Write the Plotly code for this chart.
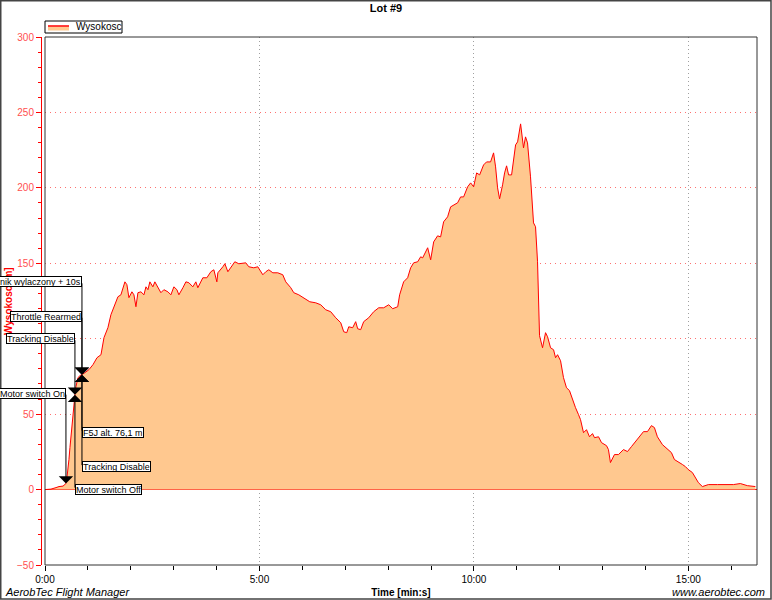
import plotly.graph_objects as go

# ---------------- data ----------------
time_s = [
    0, 8.4, 15.4, 19.6, 25.2, 28.0, 29.3, 30.7, 32.1, 33.5,
    34.9, 36.3, 37.7, 39.1, 40.5, 41.9, 43.3, 44.7, 46.1, 48.9,
    51.7, 55.9, 61.5, 67.1, 72.7, 78.3, 82.5, 88.0, 92.2, 96.4,
    102.0, 106.2, 109.0, 111.8, 114.6, 117.4, 121.6, 124.4, 127.2, 130.0,
    134.2, 138.4, 141.2, 144.0, 146.7, 150.9, 153.7, 157.9, 162.1, 166.3,
    171.9, 176.1, 180.3, 184.5, 187.3, 192.9, 197.1, 201.3, 206.8, 211.0,
    213.8, 220.8, 226.4, 232.0, 236.2, 240.4, 241.8, 248.8, 251.6, 255.8,
    260.0, 265.5, 271.1, 276.7, 280.9, 285.1, 292.1, 297.7, 304.7, 308.9,
    313.1, 318.7, 325.6, 332.6, 336.8, 343.8, 348.0, 355.0, 362.0, 370.4,
    378.7, 385.7, 392.7, 399.7, 406.7, 413.7, 417.9, 422.1, 424.9, 430.4,
    434.6, 437.4, 441.6, 445.8, 452.8, 459.8, 466.8, 473.8, 480.8, 486.4,
    493.4, 496.1, 501.7, 507.3, 511.5, 515.7, 521.3, 525.5, 528.3, 535.3,
    539.5, 543.7, 549.2, 553.4, 557.6, 563.2, 567.4, 571.6, 577.2, 581.4,
    585.6, 591.2, 595.4, 599.6, 603.8, 608.0, 613.5, 617.7, 623.3, 627.5,
    630.3, 633.1, 635.9, 640.1, 642.9, 645.7, 648.5, 652.7, 655.5, 658.3,
    661.1, 665.3, 669.4, 672.2, 675.0, 679.2, 683.4, 686.2, 689.0, 690.4,
    691.8, 696.0, 700.2, 703.0, 707.2, 711.4, 714.2, 717.0, 721.2, 725.3,
    729.5, 733.7, 737.9, 742.1, 746.3, 749.1, 753.3, 757.5, 761.7, 765.9,
    768.7, 774.3, 778.5, 785.5, 788.2, 791.0, 796.6, 802.2, 809.2, 814.8,
    820.4, 826.0, 830.2, 837.2, 842.8, 848.3, 852.5, 856.7, 863.7, 870.7,
    876.3, 880.5, 886.1, 891.7, 895.9, 900.0, 905.6, 909.8, 914.0, 919.6,
    923.8, 928.0, 940.6, 963.0, 972.7, 982.5, 993.7,
]
altitude_m = [
    0, 0.3, 1.3, 2.0, 2.3, 3.3, 4.0, 7.9, 13.2, 19.9,
    27.8, 35.8, 43.7, 51.7, 58.3, 62.9, 68.2, 72.2, 74.2, 75.5,
    76.1, 77.5, 79.5, 82.8, 87.4, 89.4, 100.7, 107.3, 115.9, 121.2,
    127.8, 129.1, 133.8, 137.7, 135.8, 127.2, 131.1, 129.1, 121.2, 130.5,
    131.1, 129.1, 134.4, 132.5, 137.7, 134.4, 137.7, 133.8, 130.5, 132.5,
    131.1, 129.1, 134.4, 132.5, 129.1, 133.8, 137.7, 137.1, 134.4, 137.7,
    133.8, 140.4, 140.4, 144.4, 145.7, 137.7, 143.7, 147.7, 149.7, 144.4,
    147.0, 151.0, 149.7, 150.3, 150.3, 147.7, 147.0, 147.7, 142.4, 144.4,
    145.7, 143.7, 143.7, 142.4, 137.7, 133.8, 130.5, 129.1, 127.2, 124.5,
    123.8, 122.5, 119.2, 117.9, 113.9, 110.6, 104.6, 104.0, 107.9, 107.3,
    111.3, 106.6, 106.0, 111.3, 113.9, 117.9, 120.5, 120.5, 122.5, 119.9,
    121.2, 129.1, 137.7, 140.4, 147.0, 150.3, 151.0, 154.3, 153.6, 160.3,
    152.3, 164.2, 168.2, 167.5, 177.5, 180.8, 187.4, 188.7, 190.1, 194.0,
    194.0, 200.7, 203.3, 200.7, 209.9, 208.6, 215.2, 217.2, 217.2, 223.2,
    213.9, 200.0, 192.7, 202.0, 209.9, 214.6, 208.6, 208.6, 219.9, 228.5,
    230.5, 242.4, 226.5, 233.8, 229.8, 207.3, 176.8, 174.2, 151.0, 125.8,
    102.0, 94.0, 104.0, 101.3, 94.0, 92.7, 87.4, 89.4, 85.4, 74.2,
    67.5, 65.6, 59.6, 54.3, 49.7, 46.4, 37.7, 39.7, 35.0, 37.1,
    34.4, 35.0, 31.1, 29.1, 26.5, 17.9, 23.2, 23.2, 26.5, 25.2,
    28.5, 31.8, 33.8, 38.4, 38.4, 42.4, 41.1, 35.0, 29.8, 26.5,
    24.5, 19.9, 18.5, 16.6, 15.2, 13.2, 11.3, 7.9, 4.6, 2.0,
    2.6, 3.3, 3.3, 3.3, 4.0, 2.6, 2.0,
]

x_tick_values = [0, 300, 600, 900]
x_tick_labels = ["0:00", "5:00", "10:00", "15:00"]
y_tick_values = [-50, 0, 50, 100, 150, 200, 250, 300]

# flight events: label, time [s], altitude at event [m]
event_labels = ["Silnik wylaczony + 10s", "Throttle Rearmed", "Tracking Disable",
                "Motor switch On", "F5J alt. 76,1 m", "Tracking Disable",
                "Motor switch Off"]
event_time_s = [51.7, 51.7, 41.9, 29.3, 51.7, 51.7, 41.9]
event_alt_m = [76.1, 76.1, 62.9, 4.0, 76.1, 76.1, 62.9]

# label box placement (styling)
label_y = [137.7, 114.9, 100.0, 63.9, 38.1, 15.2, 0.3]
label_side = ["left", "left", "left", "left", "right", "right", "right"]

series_name = "Wysokosc"
y_title = "Wysokosc [m]"
x_title = "Time [min:s]"

FONT = "Arial, Liberation Sans, sans-serif"
RED = "#FF0000"
FILL = "#FFC88F"

W, H = 772, 600
ML, MR, MT, MB = 41, 15, 37, 35
PW = W - ML - MR
PH = H - MT - MB


def px_x(p):
    return (p - ML) / PW


def px_y(p):
    return (H - MB - p) / PH


fig = go.Figure()
fig.add_trace(go.Scatter(
    x=time_s, y=altitude_m, mode="lines", name=series_name, showlegend=False,
    line=dict(color=RED, width=1), fill="tozeroy", fillcolor=FILL,
))

annotations = []
# y-axis title (drawn first so the event boxes cover it like in the original)
annotations.append(dict(
    x=px_x(8), y=px_y(301), xref="paper", yref="paper", textangle=-90,
    xanchor="center", yanchor="middle", showarrow=False,
    text="<b>" + y_title + "</b>", font=dict(family=FONT, size=10, color=RED),
))
# arrows (under the label boxes)
for lab, t, a, ly in zip(event_labels, event_time_s, event_alt_m, label_y):
    annotations.append(dict(
        x=t, y=a, xref="x", yref="y", axref="x", ayref="y", ax=t, ay=ly,
        text="", showarrow=True, arrowhead=1, arrowsize=2.4, arrowwidth=1,
        arrowcolor="#000000",
    ))
for lab, t, ly, side in zip(event_labels, event_time_s, label_y, label_side):
    annotations.append(dict(
        x=t, y=ly, xref="x", yref="y", text=lab, showarrow=False,
        xanchor="right" if side == "left" else "left", yanchor="middle",
        height=9, valign="middle",
        bgcolor="white", bordercolor="#000000", borderwidth=1, borderpad=0,
        font=dict(family=FONT, size=9, color="#000000"),
    ))
# legend text
annotations.append(dict(
    x=px_x(74), y=px_y(27), xref="paper", yref="paper", xanchor="left",
    yanchor="middle", showarrow=False, text=series_name,
    font=dict(family=FONT, size=10, color="#000000"),
))
annotations.append(dict(
    x=px_x(3), y=px_y(592), xref="paper", yref="paper",
    xanchor="left", yanchor="middle", showarrow=False,
    text="<i>AerobTec Flight Manager</i>", font=dict(family=FONT, size=11, color="#000000"),
))
annotations.append(dict(
    x=px_x(767), y=px_y(592), xref="paper", yref="paper",
    xanchor="right", yanchor="middle", showarrow=False,
    text="<i>www.aerobtec.com</i>", font=dict(family=FONT, size=11, color="#000000"),
))

shapes = [
    # plot frame
    dict(type="rect", xref="x domain", yref="y domain", x0=0, x1=1, y0=0, y1=1,
         line=dict(color="#333333", width=1), layer="above"),
    # outer figure border
    dict(type="rect", xref="paper", yref="paper",
         x0=px_x(0.75), x1=px_x(W - 1), y0=px_y(H - 1), y1=px_y(0.75),
         line=dict(color="#444444", width=1.5), layer="above"),
    # legend box + swatch
    dict(type="rect", xref="paper", yref="paper",
         x0=px_x(45), x1=px_x(122), y0=px_y(33), y1=px_y(21),
         line=dict(color="#000000", width=1), fillcolor="white", layer="above"),
    dict(type="line", xref="paper", yref="paper",
         x0=px_x(48), x1=px_x(69), y0=px_y(28.5), y1=px_y(28.5),
         line=dict(color=FILL, width=4), layer="above"),
    dict(type="line", xref="paper", yref="paper",
         x0=px_x(48), x1=px_x(69), y0=px_y(26), y1=px_y(26),
         line=dict(color=RED, width=1.5), layer="above"),
]

fig.update_layout(
    width=W, height=H,
    margin=dict(l=ML, r=MR, t=MT, b=MB, pad=0, autoexpand=False),
    paper_bgcolor="white", plot_bgcolor="white",
    font=dict(family=FONT, size=10, color="#000000"),
    title=dict(text="<b>Lot #9</b>", x=0.5, xref="container", xanchor="center",
               y=1 - 8 / H, yref="container", yanchor="middle",
               font=dict(family=FONT, size=11, color="#000000")),
    showlegend=False,
    xaxis=dict(
        domain=[4 / PW, 1], range=[0, 996], automargin=False,
        tickvals=x_tick_values, ticktext=x_tick_labels,
        ticks="outside", ticklen=5, tickcolor="#000000",
        tickfont=dict(family=FONT, size=10, color="#000000"),
        showline=False, zeroline=False,
        showgrid=True, gridcolor="#A0A0A0", griddash="1px,3px", gridwidth=1,
        minor=dict(dtick=60, tick0=0, ticks="outside", ticklen=4,
                   tickcolor="#000000", showgrid=False),
        title=dict(text="<b>" + x_title + "</b>", standoff=4,
                   font=dict(family=FONT, size=10, color="#000000")),
    ),
    yaxis=dict(
        range=[-50, 300], anchor="free", position=0, automargin=False,
        tickvals=y_tick_values,
        ticks="outside", ticklen=5, tickcolor=RED,
        tickfont=dict(family=FONT, size=10, color="#FF5050"),
        showline=True, linecolor=RED, linewidth=1,
        zeroline=True, zerolinecolor=RED, zerolinewidth=1,
        showgrid=True, gridcolor="#FF7070", griddash="1px,4px", gridwidth=1,
        minor=dict(dtick=10, tick0=0, ticks="outside", ticklen=3,
                   tickcolor=RED, showgrid=False),
    ),
    annotations=annotations,
    shapes=shapes,
)

fig.write_html(
    "out.html",
    config={"displayModeBar": False},
    post_script="document.body.style.margin='0';document.body.style.padding='0';",
)
